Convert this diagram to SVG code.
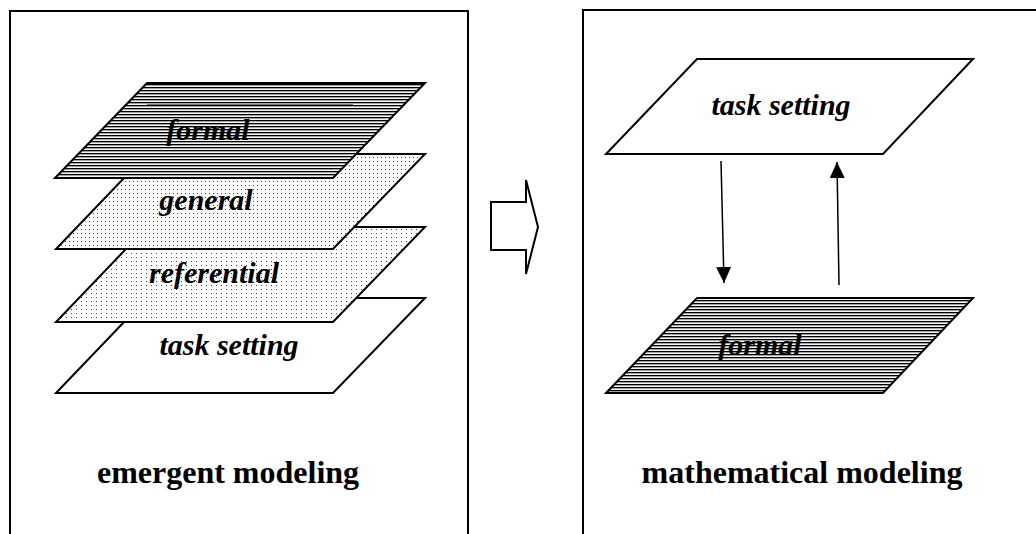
<svg xmlns="http://www.w3.org/2000/svg" width="1036" height="534" viewBox="0 0 1036 534">
<style>
.frame{fill:none;stroke:#000;stroke-width:2}
.plane{stroke:#000;stroke-width:2;stroke-linejoin:miter}
.lbl{font-family:"Liberation Serif","Times New Roman",serif;font-weight:bold;font-style:italic;font-size:30px;fill:#000;text-anchor:middle}
.title{font-family:"Liberation Serif","Times New Roman",serif;font-weight:bold;font-size:32px;fill:#000;text-anchor:middle}
.conn{stroke:#000;stroke-width:1.5;fill:none}
</style>
<defs>
<pattern id="stripes" patternUnits="userSpaceOnUse" width="4" height="3">
<rect width="4" height="3" fill="#fff"/>
<rect y="0" width="4" height="1.2" fill="#000"/>
<rect y="1.2" width="4" height="0.9" fill="#999"/>
</pattern>
<pattern id="dots" patternUnits="userSpaceOnUse" width="4" height="4">
<rect width="4" height="4" fill="#fff"/>
<rect x="1" y="1" width="1" height="1" fill="#444"/>
</pattern>
<pattern id="dots2" patternUnits="userSpaceOnUse" width="5" height="4">
<rect width="5" height="4" fill="#fff"/>
<rect x="1" y="1" width="1" height="1" fill="#444"/>
</pattern>
<marker id="ah" viewBox="0 0 16 15" refX="16" refY="7.5" markerWidth="16" markerHeight="15" markerUnits="userSpaceOnUse" orient="auto">
<path d="M0,0 L16,7.5 L0,15 Z" fill="#000"/>
</marker>
</defs>

<g id="frame-left"><rect class="frame" x="10" y="11" width="458" height="540"/></g>
<g id="frame-right"><rect class="frame" x="583" y="10" width="470" height="540"/></g>

<g id="left-task-setting">
<polygon class="plane" fill="#fff" points="147,298 425,298 333,393 56,393"/>
<text class="lbl" x="229" y="355">task setting</text>
</g>
<g id="left-referential">
<polygon class="plane" fill="url(#dots2)" points="147,227 425,227 333,322 56,322"/>
<text class="lbl" x="214" y="283">referential</text>
</g>
<g id="left-general">
<polygon class="plane" fill="url(#dots)" points="147,154 425,154 333,249 56,249"/>
<text class="lbl" x="206" y="210">general</text>
</g>
<g id="left-formal">
<polygon class="plane" fill="url(#stripes)" points="147,83 425,83 333,178 55,178"/>
<line x1="147" y1="105" x2="353" y2="105" stroke="#000" stroke-width="1"/>
<text class="lbl" x="208" y="140">formal</text>
</g>

<g id="transition-arrow">
<polygon points="491,202 526,202 526,180 538,227 526,274 526,250 491,250" fill="#fff" stroke="#000" stroke-width="2"/>
</g>

<g id="right-task-setting">
<polygon class="plane" fill="#fff" points="697,59 973,59 883,154 606,154"/>
<text class="lbl" x="781" y="115">task setting</text>
</g>
<g id="right-formal">
<polygon class="plane" fill="url(#stripes)" points="697,298 973,298 883,393 606,393"/>
<text class="lbl" x="760" y="355">formal</text>
</g>

<g id="connectors">
<line class="conn" x1="721" y1="161" x2="724" y2="283" marker-end="url(#ah)"/>
<line class="conn" x1="839" y1="285" x2="837" y2="162" marker-end="url(#ah)"/>
</g>

<g id="titles">
<text class="title" x="228" y="483">emergent modeling</text>
<text class="title" x="802" y="483">mathematical modeling</text>
</g>
</svg>
